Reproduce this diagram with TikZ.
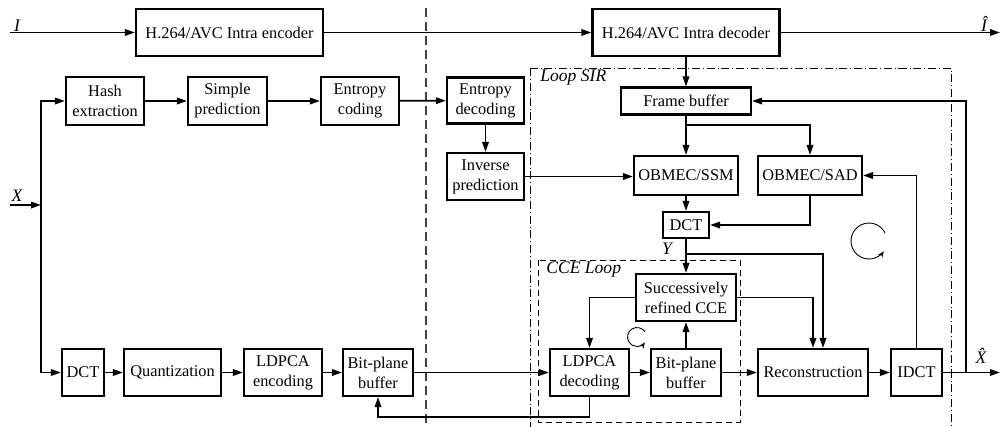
\documentclass[tikz,border=0pt]{standalone}
\usepackage{fontspec}
\setmainfont{Liberation Serif}
\usetikzlibrary{arrows.meta}
\newcommand{\blkfont}{\fontsize{9.3}{11.4}\selectfont}
\tikzset{
  bnode/.style={rectangle,draw,line width=1.2pt,fill=white,font=\blkfont,
                align=center,inner sep=1pt},
  wh/.style 2 args={minimum width=#1*0.2mm,minimum height=#2*0.2mm},
  bedge/.style={-{Triangle[length=2mm,width=1.3mm]},line width=1pt},
  tlabel/.style={font=\fontsize{10}{12}\selectfont\itshape,inner sep=0pt},
  sepline/.style={line width=0.6pt,black!75,dash pattern=on 1.8mm off 1mm},
  sirbox/.style={line width=0.4pt,dash pattern=on 1.6mm off 0.6mm on 0.15mm off 0.6mm},
  ccebox/.style={line width=0.5pt,dash pattern=on 1.2mm off 0.8mm},
  cyc/.style={-{Stealth[length=1.2mm,width=1mm]},line width=0.5pt},
}

\begin{document}
\begin{tikzpicture}[x=0.2mm,y=-0.2mm]
  \useasboundingbox (0,0) rectangle (1000,426);
  % frames
  \draw[sirbox] (530,68) rectangle (951,440);
  \draw[ccebox] (538,260) rectangle (740,422);
  \draw[sepline] (426,8) -- (426,430);
  \node[tlabel,anchor=west] (sirlbl) at (540,78) {Loop SIR};
  \node[tlabel,anchor=west] (ccelbl) at (546,270) {CCE Loop};
  %
  \node[bnode,wh={187}{47}] (enc) at (229.5,32.5) {H.264/AVC Intra encoder};
  \node[bnode,wh={187}{47}] (dec) at (686,32.5) {H.264/AVC Intra decoder};
  \node[bnode,wh={78}{48}] (hash) at (105,101) {Hash\\extraction};
  \node[bnode,wh={79}{48}] (spred) at (227.5,101) {Simple\\prediction};
  \node[bnode,wh={78}{48}] (ecod) at (360,101) {Entropy\\coding};
  \node[bnode,wh={77}{46}] (edec) at (485.5,100.5) {Entropy\\decoding};
  \node[bnode,wh={77}{47}] (ipred) at (485.5,176.5) {Inverse\\prediction};
  \node[bnode,wh={130}{27}] (fbuf) at (686,101) {Frame buffer};
  \node[bnode,wh={104}{39}] (ssm) at (686,175.5) {OBMEC/SSM};
  \node[bnode,wh={104}{39}] (sad) at (810,175.5) {OBMEC/SAD};
  \node[bnode,wh={46}{26}] (dctd) at (686,225) {DCT};
  \node[bnode,wh={100}{47}] (cce) at (686,297.5) {Successively\\refined CCE};
  \node[bnode,wh={79}{47}] (ldec) at (589.5,372.5) {LDPCA\\decoding};
  \node[bnode,wh={70}{47}] (bpd) at (686,372.5) {Bit-plane\\buffer};
  \node[bnode,wh={110}{47}] (rec) at (813,372.5) {Reconstruction};
  \node[bnode,wh={51}{47}] (idct) at (916.5,372.5) {IDCT};
  \node[bnode,wh={42}{47}] (dcte) at (83,372.5) {DCT};
  \node[bnode,wh={97}{47}] (quant) at (172.5,372.5) {Quantization};
  \node[bnode,wh={78}{47}] (lenc) at (283,372.5) {LDPCA\\encoding};
  \node[bnode,wh={70}{47}] (bpe) at (378,372.5) {Bit-plane\\buffer};
  % signal labels
  \node[tlabel] (lI) at (17,26) {I};
  \node[tlabel] (lIh) at (984,24) {\^I};
  \node[tlabel] (lX) at (17,196) {X};
  \node[tlabel] (lXh) at (981,356) {\^X};
  \node[tlabel] (lY) at (667,249) {Y};
  % junctions and free ends
  \coordinate (iin) at (10,32.5);
  \coordinate (iout) at (1000,32.5);
  \coordinate (xin) at (10,205);
  \coordinate (xsp) at (41,205);
  \coordinate (fbsp) at (686,125);
  \coordinate (ysp) at (686,254);
  \coordinate (xosp) at (966,372.5);
  \coordinate (xout) at (1000,372.5);
  \coordinate (fbk) at (589.5,417);
  % connectors
  \draw[bedge] (iin) -- (enc.west);
  \draw[bedge] (enc) -- (dec);
  \draw[bedge] (dec.east) -- (iout);
  \draw[bedge] (dec) -- (fbuf);
  \draw[bedge] (fbuf) -- (ssm);
  \draw[bedge] (fbsp) -| (sad.north);
  \draw[bedge] (xin) -- (xsp);
  \draw[bedge] (xsp) |- (hash.west);
  \draw[bedge] (xsp) |- (dcte.west);
  \draw[bedge] (hash) -- (spred);
  \draw[bedge] (spred) -- (ecod);
  \draw[bedge] (ecod) -- (edec);
  \draw[bedge] (edec) -- (ipred);
  \draw[bedge] (ipred.east) -- (ipred.east -| ssm.west);
  \draw[bedge] (ssm) -- (dctd);
  \draw[bedge] (sad.south) |- (dctd.east);
  \draw[bedge] (idct.north) |- (sad.east);
  \draw[bedge] (dctd) -- (cce);
  \draw[bedge] (ysp) -| ([xshift=2mm]rec.north);
  \draw[bedge] (cce.west) -| (ldec.north);
  \draw[bedge] (cce.east) -| (rec.north);
  \draw[bedge] (ldec) -- (bpd);
  \draw[bedge] (bpd) -- (cce);
  \draw[bedge] (bpd) -- (rec);
  \draw[bedge] (rec) -- (idct);
  \draw[bedge] (idct.east) -- (xout);
  \draw[bedge] (xosp) |- (fbuf.east);
  \draw[bedge] (ldec.south) -- (fbk) -| (bpe.south);
  \draw[bedge] (dcte) -- (quant);
  \draw[bedge] (quant) -- (lenc);
  \draw[bedge] (lenc) -- (bpe);
  \draw[bedge] (bpe) -- (ldec);
  % iteration marks
  \coordinate (cbig) at (869,241);
  \coordinate (csmall) at (637,337);
  \draw[cyc] (cbig) ++(27:3.6mm) arc[start angle=27,end angle=325,radius=3.6mm];
  \draw[cyc] (csmall) ++(32:1.9mm) arc[start angle=32,end angle=325,radius=1.9mm];
\end{tikzpicture}
\end{document}
